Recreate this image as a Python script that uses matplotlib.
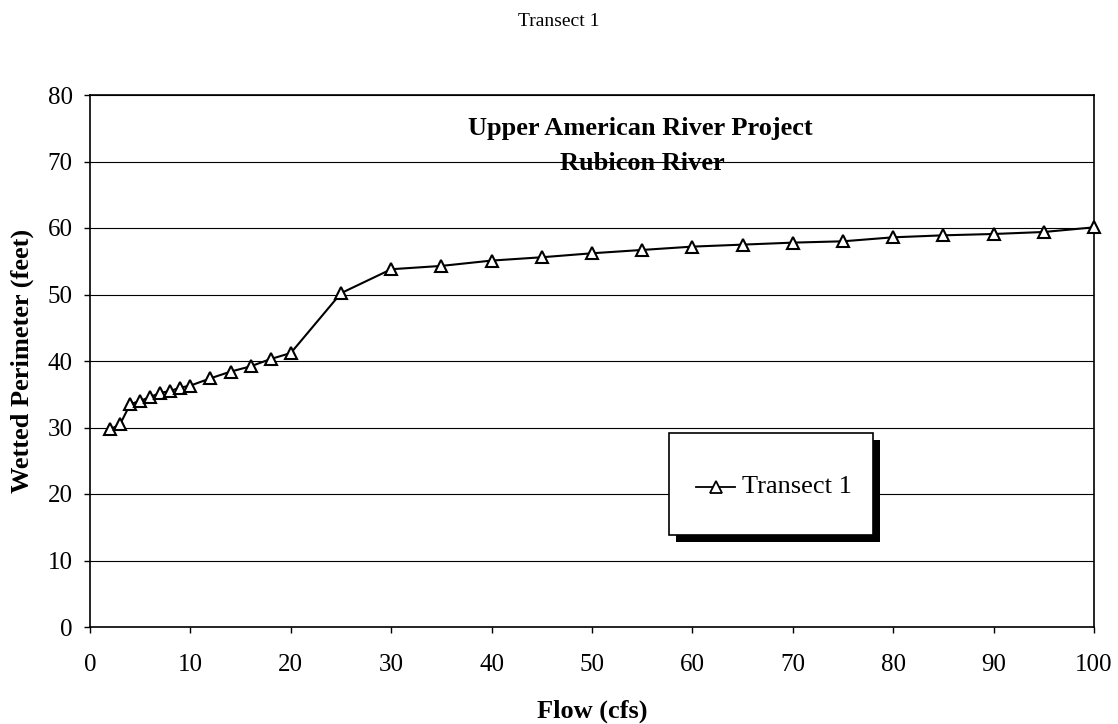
import matplotlib.pyplot as plt
from matplotlib.patches import Rectangle

plt.rcParams['font.family'] = ['Liberation Serif', 'DejaVu Serif']

flow = [2, 3, 4, 5, 6, 7, 8, 9, 10, 12, 14, 16, 18, 20, 25, 30, 35, 40, 45,
        50, 55, 60, 65, 70, 75, 80, 85, 90, 95, 100]
perimeter = [29.7, 30.5, 33.5, 34.0, 34.6, 35.2, 35.5, 36.0, 36.3, 37.4, 38.4,
             39.2, 40.3, 41.2, 50.2, 53.8, 54.3, 55.1, 55.6, 56.2, 56.7, 57.2,
             57.5, 57.8, 58.0, 58.6, 58.9, 59.1, 59.4, 60.1]

W, H = 1118, 724
fig = plt.figure(figsize=(W / 100, H / 100), dpi=100)
ax = fig.add_axes([90 / W, 1 - 627 / H, 1004 / W, 532 / H])

ax.plot(flow, perimeter, color='black', lw=1.5, marker='^', ms=9,
        mfc='white', mec='black', mew=1.5, clip_on=False, zorder=3)

ax.set_xlim(0, 100)
ax.set_ylim(0, 80)
ax.set_xticks(range(0, 101, 10))
ax.set_yticks(range(0, 81, 10))
ax.tick_params(labelsize=18, direction='out', length=4.5, width=1)
ax.tick_params(axis='x', pad=15)
ax.tick_params(axis='y', pad=8)
ax.yaxis.grid(True, color='black', lw=0.8)
ax.set_axisbelow(True)
for s in ax.spines.values():
    s.set_linewidth(1.2)

ax.set_xlabel('Flow (cfs)', fontsize=19, fontweight='bold', va='center')
ax.xaxis.set_label_coords(0.5, (627 - 711) / 532)
ax.set_ylabel('Wetted Perimeter (feet)', fontsize=19, fontweight='bold', va='center')
ax.yaxis.set_label_coords((22 - 90) / 1004, 0.5)
fig.text(0.5, 1 - 22 / H, 'Transect 1', ha='center', va='center', fontsize=14)

ax.text(54.8, 75.0, 'Upper American River Project', ha='center', va='center',
        fontsize=19, fontweight='bold')
ax.text(55.0, 69.7, 'Rubicon River', ha='center', va='center',
        fontsize=19, fontweight='bold')

# legend box with drop shadow, placed in pixel space
def px(x, y):
    return ((x - 90) / 1004 * 100, (627 - y) / 532 * 80)

bx0, by0 = px(669, 535)
bx1, by1 = px(873, 433)
sx, sy = px(676, 542)
ax.add_patch(Rectangle((sx, sy), bx1 - bx0, by1 - by0, facecolor='black',
                       edgecolor='none', zorder=4, clip_on=False))
ax.add_patch(Rectangle((bx0, by0), bx1 - bx0, by1 - by0, facecolor='white',
                       edgecolor='black', lw=1.2, zorder=5, clip_on=False))
l0, ly = px(696, 487)
l1, _ = px(735, 487)
m, _ = px(716, 487)
t0, _ = px(742, 487)
ax.plot([l0, l1], [ly, ly], color='black', lw=1.3, zorder=6)
ax.plot([m], [ly], marker='^', ms=8, mfc='white', mec='black',
        mew=1.3, zorder=7)
ax.text(t0, ly, 'Transect 1', ha='left', va='center', fontsize=19, zorder=7)

fig.savefig('out.png', dpi=100)
